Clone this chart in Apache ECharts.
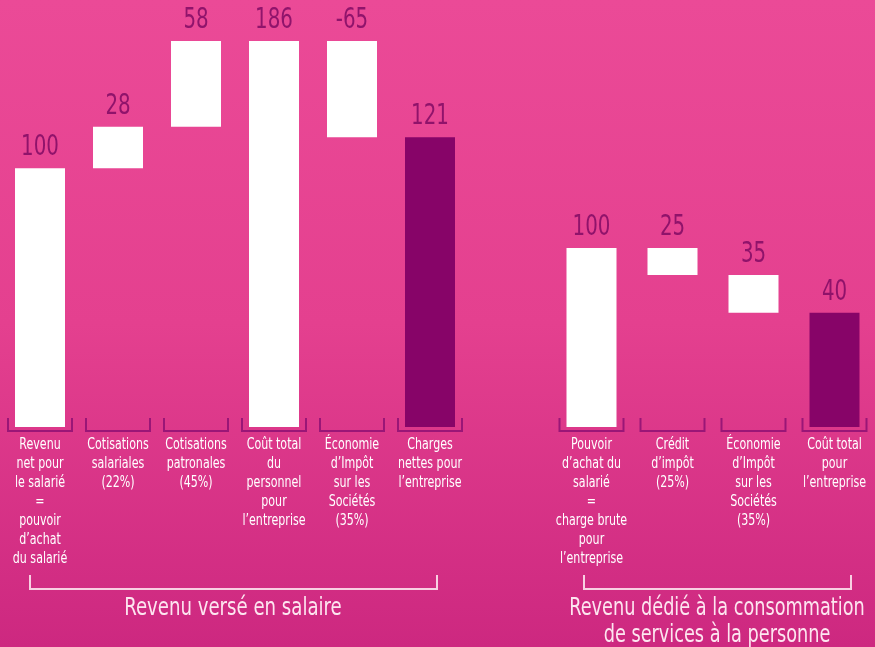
<!DOCTYPE html>
<html>
<head>
<meta charset="utf-8">
<script src="https://cdn.jsdelivr.net/npm/echarts@6/dist/echarts.min.js"></script>
<style>
html, body { margin: 0; padding: 0; }
#chart-box { width: 875px; height: 647px; }
</style>
</head>
<body>
<div id="chart-box"></div>
<script>
// left group : revenu versé en salaire
var leftCategories = [
    'Revenu\nnet pour\nle salarié\n=\npouvoir\nd’achat\ndu salarié',
    'Cotisations\nsalariales\n(22%)',
    'Cotisations\npatronales\n(45%)',
    'Coût total\ndu\npersonnel\npour\nl’entreprise',
    'Économie\nd’Impôt\nsur les\nSociétés\n(35%)',
    'Charges\nnettes pour\nl’entreprise'
];
var leftValues = [100, 28, 58, 186, -65, 121];
var leftLabels = ['100', '28', '58', '186', '-65', '121'];
var leftKinds = ['total', 'delta', 'delta', 'total', 'delta', 'total'];

// right group : revenu dédié à la consommation de services
var rightCategories = [
    'Pouvoir\nd’achat du\nsalarié\n=\ncharge brute\npour\nl’entreprise',
    'Crédit\nd’impôt\n(25%)',
    'Économie\nd’Impôt\nsur les\nSociétés\n(35%)',
    'Coût total\npour\nl’entreprise'
];
var rightValues = [100, -25, -35, 40];
var rightLabels = ['100', '25', '35', '40'];
var rightKinds = ['total', 'delta', 'delta', 'total'];

var FONT = '"Liberation Sans Narrow", "DejaVu Sans Condensed", sans-serif';
var LABEL_COLOR = 'rgba(128, 10, 100, 0.85)';
var BRACKET_COLOR = '#9a1677';

// build [index, start, end, label, isLast] rows for the waterfall
function buildRows(values, labels, kinds, floor) {
    var rows = [];
    var running = 0;
    for (var i = 0; i < values.length; i++) {
        var start, end;
        if (kinds[i] === 'total') {
            start = floor;
            end = values[i];
            running = values[i];
        } else {
            start = running;
            end = running + values[i];
            running = end;
        }
        rows.push([i, start, end, labels[i], i === values.length - 1 ? 1 : 0]);
    }
    return rows;
}

var leftMin = -75, leftMax = 186;
var rightMin = -66, rightMax = 100;

function renderBar(params, api) {
    var idx = api.value(0);
    var p1 = api.coord([idx, api.value(1)]);
    var p2 = api.coord([idx, api.value(2)]);
    var w = 50;
    var top = Math.min(p1[1], p2[1]);
    var h = Math.abs(p1[1] - p2[1]);
    return {
        type: 'group',
        children: [{
            type: 'rect',
            shape: { x: p1[0] - w / 2, y: top, width: w, height: h },
            style: { fill: api.value(4) ? '#870468' : '#ffffff' }
        }, {
            type: 'text',
            x: p1[0],
            y: top - 6,
            scaleX: 0.76,
            style: {
                x: 0, y: 0,
                text: api.value(3),
                fill: LABEL_COLOR,
                font: '29px ' + FONT,
                align: 'center',
                verticalAlign: 'bottom'
            }
        }]
    };
}

// small bracket + category text under each bar
function makeBracketRenderer(cats) {
    return function (params, api) {
        var idx = api.value(0);
        var p = api.coord([idx, api.value(1)]);
        var x0 = p[0] - 32, x1 = p[0] + 32;
        var yb = p[1] + 4;
        return {
            type: 'group',
            children: [{
                type: 'polyline',
                shape: { points: [[x0, yb - 13], [x0, yb], [x1, yb], [x1, yb - 13]] },
                style: { stroke: BRACKET_COLOR, lineWidth: 2, fill: null }
            }, {
                type: 'text',
                x: p[0],
                y: yb + 5,
                scaleX: 0.82,
                style: {
                    x: 0, y: 0,
                    text: cats[idx],
                    fill: '#ffffff',
                    font: '15px ' + FONT,
                    lineHeight: 19,
                    align: 'center',
                    verticalAlign: 'top'
                }
            }]
        };
    };
}

function xAxisFor(cats, gridIdx) {
    return {
        type: 'category',
        gridIndex: gridIdx,
        data: cats,
        show: false
    };
}

function yAxisFor(gridIdx, min, max) {
    return {
        type: 'value',
        gridIndex: gridIdx,
        min: min,
        max: max,
        show: false,
        splitLine: { show: false }
    };
}

var leftRows = buildRows(leftValues, leftLabels, leftKinds, leftMin);
var rightRows = buildRows(rightValues, rightLabels, rightKinds, rightMin);

var option = {
    backgroundColor: new echarts.graphic.LinearGradient(0, 0, 0, 1, [{
        offset: 0, color: '#eb4a97'
    }, {
        offset: 0.5, color: '#e4408f'
    }, {
        offset: 1, color: '#cd2880'
    }]),
    animation: false,
    grid: [{
        left: 1, width: 468, top: 41, bottom: 220
    }, {
        left: 551, width: 331, top: 248, bottom: 220
    }],
    xAxis: [xAxisFor(leftCategories, 0), xAxisFor(rightCategories, 1)],
    yAxis: [yAxisFor(0, leftMin, leftMax), yAxisFor(1, rightMin, rightMax)],
    series: [{
        type: 'custom',
        xAxisIndex: 0, yAxisIndex: 0,
        renderItem: makeBracketRenderer(leftCategories),
        data: leftRows.map(function (r) { return [r[0], leftMin]; }),
        clip: false, z: 1
    }, {
        type: 'custom',
        xAxisIndex: 0, yAxisIndex: 0,
        renderItem: renderBar,
        data: leftRows,
        clip: false, z: 2
    }, {
        type: 'custom',
        xAxisIndex: 1, yAxisIndex: 1,
        renderItem: makeBracketRenderer(rightCategories),
        data: rightRows.map(function (r) { return [r[0], rightMin]; }),
        clip: false, z: 1
    }, {
        type: 'custom',
        xAxisIndex: 1, yAxisIndex: 1,
        renderItem: renderBar,
        data: rightRows,
        clip: false, z: 2
    }],
    graphic: [{
        type: 'polyline',
        shape: { points: [[30, 575], [30, 589], [437, 589], [437, 575]] },
        style: { stroke: '#f8d0e2', lineWidth: 2, fill: null }
    }, {
        type: 'polyline',
        shape: { points: [[584, 575], [584, 589], [851, 589], [851, 575]] },
        style: { stroke: '#f8d0e2', lineWidth: 2, fill: null }
    }, {
        type: 'text',
        x: 233, y: 609,
        scaleX: 0.84,
        style: {
            text: 'Revenu versé en salaire',
            fill: '#fde6f0',
            font: '24px ' + FONT,
            align: 'center',
            verticalAlign: 'middle'
        }
    }, {
        type: 'text',
        x: 717, y: 622,
        scaleX: 0.82,
        style: {
            text: 'Revenu dédié à la consommation\nde services à la personne',
            fill: '#fde6f0',
            font: '24px ' + FONT,
            lineHeight: 27,
            align: 'center',
            verticalAlign: 'middle'
        }
    }]
};

var myChart = echarts.init(document.getElementById('chart-box'));
myChart.setOption(option);
</script>
</body>
</html>
